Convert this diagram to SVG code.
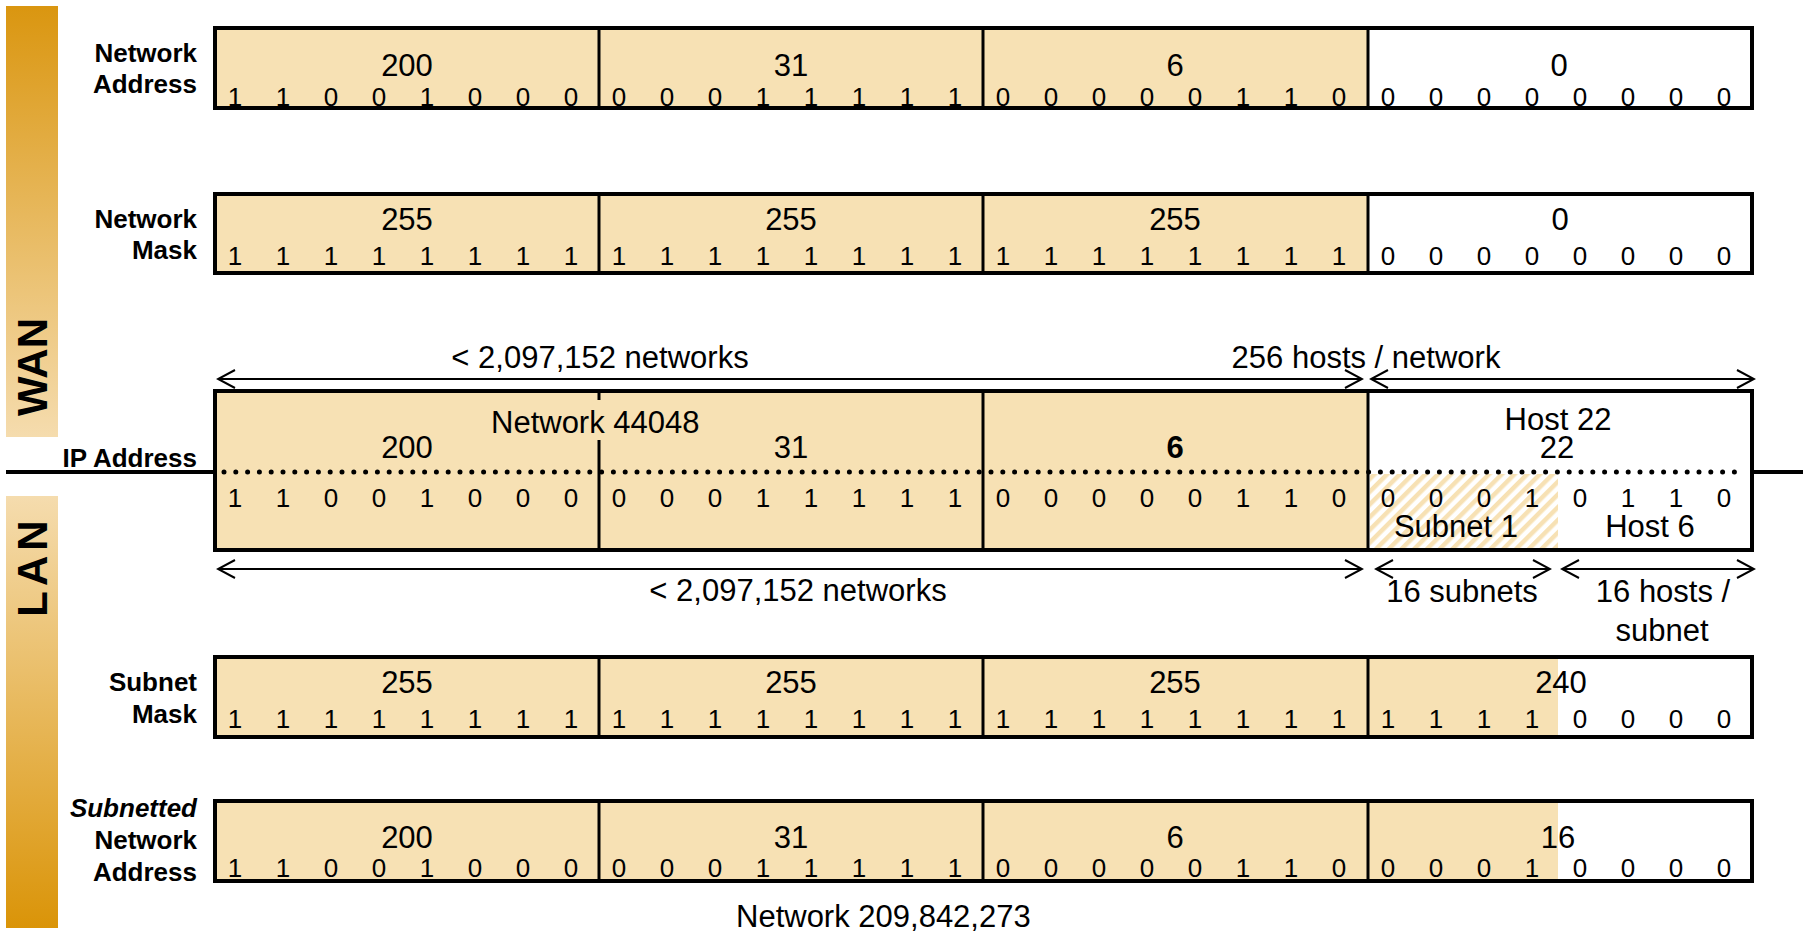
<svg xmlns="http://www.w3.org/2000/svg" width="1803" height="933" viewBox="0 0 1803 933">
<defs>
<linearGradient id="gWan" x1="0" y1="0" x2="0" y2="1"><stop offset="0" stop-color="#DA9610"/><stop offset="1" stop-color="#F5DCAE"/></linearGradient>
<linearGradient id="gLan" x1="0" y1="0" x2="0" y2="1"><stop offset="0" stop-color="#F5DCAE"/><stop offset="1" stop-color="#DA9408"/></linearGradient>
<pattern id="hatch" patternUnits="userSpaceOnUse" width="9" height="9" patternTransform="rotate(45)"><rect width="9" height="9" fill="#FFFFFF"/><rect width="4.5" height="9" fill="#F7E1B4"/></pattern>
<marker id="chev" viewBox="-20 -11 22 22" refX="0" refY="0" markerWidth="22" markerHeight="22" markerUnits="userSpaceOnUse" orient="auto-start-reverse"><path d="M -17 -9 L 0 0 L -17 9" fill="none" stroke="#000" stroke-width="2"/></marker>
<style>
text{font-family:"Liberation Sans",Arial,sans-serif;fill:#000}
.num{font-size:31px;text-anchor:middle}
.bit{font-size:26px;text-anchor:middle}
.lbl{font-size:26px;font-weight:bold;text-anchor:end}
.big{font-size:31px}
.mid{text-anchor:middle}
.side{font-size:42px;font-weight:bold;text-anchor:middle}
.box{fill:none;stroke:#000;stroke-width:4}
.div{stroke:#000;stroke-width:3}
.beige{fill:#F7E1B4}
.arr{stroke:#000;stroke-width:2;fill:none;marker-start:url(#chev);marker-end:url(#chev)}
</style>
</defs>
<rect width="1803" height="933" fill="#FFFFFF"/>

<g id="wan">
<rect x="6" y="6" width="52" height="431" fill="url(#gWan)"/>
<text class="side" transform="translate(47,367) rotate(-90)">WAN</text>
</g>
<g id="lan">
<rect x="6" y="496" width="52" height="432" fill="url(#gLan)"/>
<text class="side" transform="translate(47,566) rotate(-90)" letter-spacing="5">LAN</text>
</g>

<g id="network-address">
<rect class="beige" x="215" y="28" width="1153" height="80"/>
<rect class="box" x="215" y="28" width="1537" height="80"/>
<line class="div" x1="599" y1="28" x2="599" y2="108"/><line class="div" x1="983" y1="28" x2="983" y2="108"/><line class="div" x1="1368" y1="28" x2="1368" y2="108"/>
<text class="lbl" x="197" y="62">Network</text><text class="lbl" x="197" y="93">Address</text>
<text class="num" x="407" y="76">200</text><text class="num" x="791" y="76">31</text><text class="num" x="1175" y="76">6</text><text class="num" x="1559" y="76">0</text>
<text class="bit" y="106" x="235 283 331 379 427 475 523 571 619 667 715 763 811 859 907 955 1003 1051 1099 1147 1195 1243 1291 1339 1388 1436 1484 1532 1580 1628 1676 1724">11001000000111110000011000000000</text>
</g>

<g id="network-mask">
<rect class="beige" x="215" y="194" width="1153" height="79"/>
<rect class="box" x="215" y="194" width="1537" height="79"/>
<line class="div" x1="599" y1="194" x2="599" y2="273"/><line class="div" x1="983" y1="194" x2="983" y2="273"/><line class="div" x1="1368" y1="194" x2="1368" y2="273"/>
<text class="lbl" x="197" y="228">Network</text><text class="lbl" x="197" y="259">Mask</text>
<text class="num" x="407" y="230">255</text><text class="num" x="791" y="230">255</text><text class="num" x="1175" y="230">255</text><text class="num" x="1560" y="230">0</text>
<text class="bit" y="265" x="235 283 331 379 427 475 523 571 619 667 715 763 811 859 907 955 1003 1051 1099 1147 1195 1243 1291 1339 1388 1436 1484 1532 1580 1628 1676 1724">11111111111111111111111100000000</text>
</g>

<g id="ip-address">
<rect class="beige" x="215" y="391" width="1153" height="159"/>
<rect x="1370" y="474" width="188" height="74" fill="url(#hatch)"/>
<line x1="6" y1="472" x2="215" y2="472" stroke="#000" stroke-width="4"/>
<line x1="1752" y1="472" x2="1803" y2="472" stroke="#000" stroke-width="4"/>
<line x1="224" y1="472" x2="1742" y2="472" stroke="#000" stroke-width="5" stroke-linecap="round" stroke-dasharray="0 11.8"/>
<rect class="box" x="215" y="391" width="1537" height="159"/>
<line class="div" x1="599" y1="391" x2="599" y2="550"/><line class="div" x1="983" y1="391" x2="983" y2="550"/><line class="div" x1="1368" y1="391" x2="1368" y2="550"/>
<rect class="beige" x="590" y="400" width="20" height="40"/>
<text class="lbl" x="197" y="467">IP Address</text>
<text class="big" x="491" y="433">Network 44048</text>
<text class="num" x="407" y="458">200</text><text class="num" x="791" y="458">31</text><text class="num" x="1175" y="458" font-weight="bold">6</text>
<text class="num" x="1558" y="430">Host 22</text><text class="num" x="1557" y="458">22</text>
<text class="bit" y="507" x="235 283 331 379 427 475 523 571 619 667 715 763 811 859 907 955 1003 1051 1099 1147 1195 1243 1291 1339 1388 1436 1484 1532 1580 1628 1676 1724">11001000000111110000011000010110</text>
<text class="num" x="1456" y="537">Subnet 1</text><text class="num" x="1650" y="537">Host 6</text>
</g>

<g id="subnet-mask">
<rect class="beige" x="215" y="657" width="1153" height="80"/>
<rect class="beige" x="1368" y="659" width="190" height="76"/>
<rect class="box" x="215" y="657" width="1537" height="80"/>
<line class="div" x1="599" y1="657" x2="599" y2="737"/><line class="div" x1="983" y1="657" x2="983" y2="737"/><line class="div" x1="1368" y1="657" x2="1368" y2="737"/>
<text class="lbl" x="197" y="691">Subnet</text><text class="lbl" x="197" y="723">Mask</text>
<text class="num" x="407" y="693">255</text><text class="num" x="791" y="693">255</text><text class="num" x="1175" y="693">255</text><text class="num" x="1561" y="693">240</text>
<text class="bit" y="728" x="235 283 331 379 427 475 523 571 619 667 715 763 811 859 907 955 1003 1051 1099 1147 1195 1243 1291 1339 1388 1436 1484 1532 1580 1628 1676 1724">11111111111111111111111111110000</text>
</g>

<g id="subnetted-network-address">
<rect class="beige" x="215" y="801" width="1153" height="80"/>
<rect class="beige" x="1368" y="803" width="190" height="76"/>
<rect class="box" x="215" y="801" width="1537" height="80"/>
<line class="div" x1="599" y1="801" x2="599" y2="881"/><line class="div" x1="983" y1="801" x2="983" y2="881"/><line class="div" x1="1368" y1="801" x2="1368" y2="881"/>
<text class="lbl" x="197" y="817" font-style="italic">Subnetted</text><text class="lbl" x="197" y="849">Network</text><text class="lbl" x="197" y="881">Address</text>
<text class="num" x="407" y="848">200</text><text class="num" x="791" y="848">31</text><text class="num" x="1175" y="848">6</text><text class="num" x="1558" y="848">16</text>
<text class="bit" y="877" x="235 283 331 379 427 475 523 571 619 667 715 763 811 859 907 955 1003 1051 1099 1147 1195 1243 1291 1339 1388 1436 1484 1532 1580 1628 1676 1724">11001000000111110000011000010000</text>
<text class="big" x="736" y="927">Network 209,842,273</text>
</g>

<g id="connectors">
<line class="arr" x1="218" y1="379" x2="1362" y2="379"/>
<line class="arr" x1="1371" y1="379" x2="1754" y2="379"/>
<line class="arr" x1="218" y1="569" x2="1362" y2="569"/>
<line class="arr" x1="1376" y1="569" x2="1550" y2="569"/>
<line class="arr" x1="1562" y1="569" x2="1754" y2="569"/>
</g>
<g id="connector-labels">
<text class="big mid" x="600" y="368">&lt; 2,097,152 networks</text>
<text class="big mid" x="1366" y="368">256 hosts / network</text>
<text class="big mid" x="798" y="601">&lt; 2,097,152 networks</text>
<text class="big mid" x="1462" y="602">16 subnets</text>
<text class="big mid" x="1663" y="602">16 hosts /</text>
<text class="big mid" x="1662" y="641">subnet</text>
</g>
</svg>
